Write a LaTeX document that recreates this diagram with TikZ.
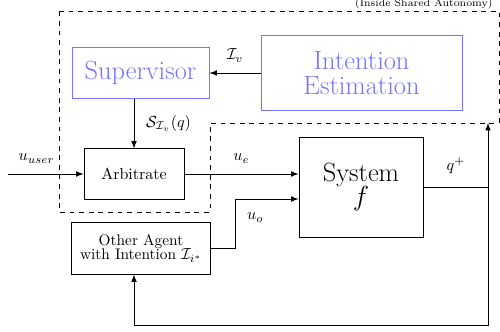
\documentclass[tikz,border=0pt]{standalone}
\usetikzlibrary{arrows}
\begin{document}
\begin{tikzpicture}[x=0.625pt, y=-0.625pt, >=latex, semithick,
    block/.style={draw, rectangle, align=center, inner sep=0pt},
    est/.style={block, draw=blue!55, text=blue!55},
    big/.style={font=\fontsize{16.5}{15.5}\selectfont}]
  \useasboundingbox (0,0) rectangle (500,332);
  % shared autonomy region
  \draw[dashed] (59,11) -- (499,11) -- (499,123) -- (210,123)
    -- (210,212) -- (59,212) -- cycle;
  \node[anchor=base east, inner sep=0pt,
    font=\fontsize{6.5}{7}\selectfont] (region) at (493,7) {(Inside Shared Autonomy)};
  % blocks
  \node[est, big, minimum width=85.6pt, minimum height=31.3pt] (sup) at (140.5,73) {Supervisor};
  \node[est, big, minimum width=125.6pt, minimum height=46.3pt] (ie) at (361.5,73) {Intention\\Estimation};
  \node[block, minimum width=62.5pt, minimum height=31.3pt] (arb) at (134,174) {Arbitrate};
  \node[block, big, minimum width=77.5pt, minimum height=62.5pt] (sys) at (361,187) {System\\$f$};
  \node[block, font=\fontsize{9.6}{9}\selectfont, minimum width=86.3pt, minimum height=32pt] (other) at (141,248.5)
    {Other Agent\\with Intention $\mathcal{I}_{i^*}$};
  % connectors
  \coordinate (in) at (8,174);
  \coordinate (fb) at (488,187);
  \coordinate (top) at (488,123);
  \draw[->] (ie) -- node[above=3pt] {$\mathcal{I}_v$} (sup);
  \draw[->] (sup.south -| arb) -- node[right=4pt] {$\mathcal{S}_{\mathcal{I}_v}(q)$} (arb);
  \draw[->] (in) -- node[above=3pt, pos=0.38] {$u_{user}$} (arb);
  \draw[->] (arb) -- node[above=3pt] {$u_e$} (sys.west |- arb);
  \draw[->] (other) -| (235,199) -- node[below=5pt, pos=0.32] {$u_o$} (sys.west |- 0,199);
  \draw (sys.east |- fb) -- node[above=5pt] {$q^+$} (fb);
  \draw[->] (fb) -- (top);
  \draw[->] (fb) -- (488,325) -| (other.south -| arb);
\end{tikzpicture}
\end{document}
